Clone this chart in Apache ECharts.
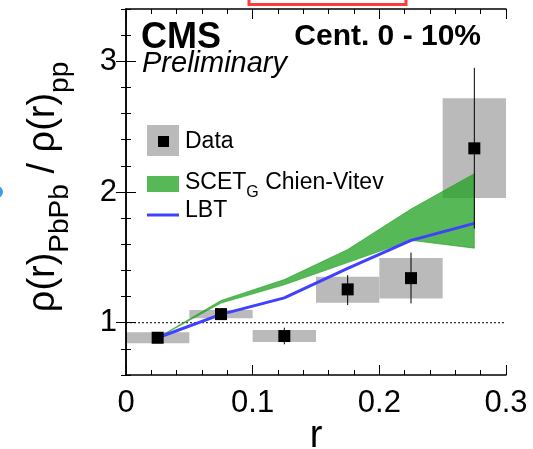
<!DOCTYPE html>
<html><head><meta charset="utf-8">
<script src="https://cdn.jsdelivr.net/npm/echarts@6/dist/echarts.min.js"></script>
<style>html,body{margin:0;padding:0;background:#fff}#c{width:533px;height:449px}</style>
</head><body><div id="c"></div>
<script>
// ---- data ----
const rCenter = [0.025, 0.075, 0.125, 0.175, 0.225, 0.275];
const rLow    = [0, 0.05, 0.1, 0.15, 0.2, 0.25];
const rHigh   = [0.05, 0.1, 0.15, 0.2, 0.25, 0.3];
const dataRatio = [0.885, 1.066, 0.898, 1.255, 1.341, 2.334];
const statLow   = [0.875, 1.056, 0.835, 1.135, 1.148, 1.72];
const statHigh  = [0.895, 1.076, 0.962, 1.364, 1.537, 2.95];
const sysLow    = [0.843, 1.034, 0.853, 1.153, 1.186, 1.954];
const sysHigh   = [0.927, 1.097, 0.944, 1.351, 1.496, 2.718];
const scetLow   = [0.885, 1.15, 1.29, 1.46, 1.63, 1.57];
const scetHigh  = [0.885, 1.17, 1.33, 1.56, 1.87, 2.14];
const lbtValue  = [0.885, 1.064, 1.19, 1.415, 1.63, 1.76];
const xTickLabels = [0, 0.1, 0.2, 0.3];
const yTickLabels = [1, 2, 3];
const refLevel = 1;

const FONT = 'Liberation Sans, Arial, Helvetica, sans-serif';
const GRAY = '#bababa';
const GREEN = 'rgba(30,160,30,0.75)';
const BLUE = '#4040ff';

const chart = echarts.init(document.getElementById('c'), null, {renderer: 'canvas'});

function xAx(pos, interval, len, labels, line) {
  return {
    type: 'value', position: pos, min: 0, max: 0.3, interval: interval, z: 10,
    axisLine: {show: line, lineStyle: {color: '#000', width: 1.5}},
    axisTick: {show: true, inside: true, length: len, lineStyle: {color: '#000', width: 1}},
    axisLabel: {show: labels, fontSize: 31, fontFamily: FONT, color: '#000', margin: 13,
      showMinLabel: true, showMaxLabel: true,
      formatter: v => String(Math.round(v * 10) / 10)},
    splitLine: {show: false}
  };
}
function yAx(pos, major, labels, line) {
  const a = {
    type: 'value', position: pos, min: 0.6, max: 3.4, interval: 0.2, z: 10,
    axisLine: {show: line, lineStyle: {color: '#000', width: 1.5}},
    axisTick: {show: true, inside: true, length: major ? 10 : 5, lineStyle: {color: '#000', width: 1}},
    axisLabel: {show: labels, fontSize: 31, fontFamily: FONT, color: '#000', margin: 9},
    splitLine: {show: false}
  };
  if (major) {
    a.axisTick.customValues = yTickLabels;
    a.axisLabel.customValues = yTickLabels;
    a.axisLabel.formatter = v => String(Math.round(v));
  }
  return a;
}

const option = {
  animation: false,
  grid: {left: 126, right: 27, top: 9, bottom: 74, show: false},
  xAxis: [
    xAx('bottom', 0.02, 5, false, false),
    xAx('bottom', 0.1, 10, true, true),
    xAx('top', 0.02, 5, false, false),
    xAx('top', 0.1, 10, false, true)
  ],
  yAxis: [
    yAx('left', false, false, false),
    yAx('left', true, true, true),
    yAx('right', false, false, false),
    yAx('right', true, false, true)
  ],
  series: [
    { // systematic boxes
      type: 'custom', xAxisIndex: 1, yAxisIndex: 1, silent: true, z: 1,
      data: rCenter.map((r, i) => [rLow[i], rHigh[i], sysLow[i], sysHigh[i]]),
      encode: {x: [0, 1], y: [2, 3]},
      renderItem: (params, api) => {
        const p0 = api.coord([api.value(0), api.value(3)]);
        const p1 = api.coord([api.value(1), api.value(2)]);
        return {type: 'rect', shape: {x: p0[0], y: p0[1], width: p1[0] - p0[0], height: p1[1] - p0[1]},
          style: {fill: GRAY}};
      }
    },
    { // reference dashed line
      type: 'line', xAxisIndex: 1, yAxisIndex: 1, silent: true, z: 2, symbol: 'none',
      data: [[xTickLabels[0], refLevel], [xTickLabels[3], refLevel]],
      lineStyle: {color: '#000', width: 1, type: [2, 2]}
    },
    { // SCET band
      type: 'custom', xAxisIndex: 1, yAxisIndex: 1, silent: true, z: 3,
      data: rCenter.map((r, i) => [r, scetLow[i], scetHigh[i]]),
      encode: {x: 0, y: [1, 2]},
      renderItem: (params, api) => {
        if (params.dataIndex !== rCenter.length - 1) return null;
        const pts = [];
        for (let i = 0; i < rCenter.length; i++) pts.push(api.coord([rCenter[i], scetHigh[i]]));
        for (let i = rCenter.length - 1; i >= 0; i--) pts.push(api.coord([rCenter[i], scetLow[i]]));
        return {type: 'polygon', shape: {points: pts}, style: {fill: GREEN, stroke: GREEN, lineWidth: 0.8}};
      }
    },
    { // LBT
      type: 'line', xAxisIndex: 1, yAxisIndex: 1, silent: true, z: 4, symbol: 'none',
      data: rCenter.map((r, i) => [r, lbtValue[i]]),
      lineStyle: {color: BLUE, width: 3}
    },
    { // stat error bars
      type: 'custom', xAxisIndex: 1, yAxisIndex: 1, silent: true, z: 5,
      data: rCenter.map((r, i) => [r, statLow[i], statHigh[i]]),
      encode: {x: 0, y: [1, 2]},
      renderItem: (params, api) => {
        const a = api.coord([api.value(0), api.value(1)]);
        const b = api.coord([api.value(0), api.value(2)]);
        return {type: 'line', shape: {x1: a[0], y1: a[1], x2: b[0], y2: b[1]},
          style: {stroke: '#000', lineWidth: 1}};
      }
    },
    { // data points
      type: 'scatter', xAxisIndex: 1, yAxisIndex: 1, silent: true, z: 6,
      symbol: 'rect', symbolSize: 12, itemStyle: {color: '#000', opacity: 1},
      data: rCenter.map((r, i) => [r, dataRatio[i]])
    }
  ],
  graphic: [
    {type: 'text', x: 141, y: 38, style: {text: 'CMS', font: 'bold 36px ' + FONT, fill: '#000', verticalAlign: 'middle', align: 'left'}},
    {type: 'text', x: 142, y: 64, style: {text: 'Preliminary', font: 'italic 29px ' + FONT, fill: '#000', verticalAlign: 'middle', align: 'left'}},
    {type: 'text', x: 481, y: 37, style: {text: 'Cent. 0 - 10%', font: 'bold 30px ' + FONT, fill: '#000', verticalAlign: 'middle', align: 'right'}},
    // legend
    {type: 'rect', shape: {x: 147, y: 125, width: 32, height: 31}, style: {fill: GRAY}},
    {type: 'rect', shape: {x: 158, y: 136, width: 11, height: 11}, style: {fill: '#000'}},
    {type: 'text', x: 185, y: 142, style: {text: 'Data', font: '23px ' + FONT, fill: '#000', verticalAlign: 'middle', align: 'left'}},
    {type: 'rect', shape: {x: 147, y: 176, width: 32, height: 16}, style: {fill: GREEN}},
    {type: 'text', x: 185, y: 186, style: {
      text: '{a|SCET}{s|G}{a| Chien-Vitev}', fill: '#000', verticalAlign: 'middle', align: 'left',
      rich: {a: {fontSize: 23, fontFamily: FONT, lineHeight: 30, verticalAlign: 'top'},
             s: {fontSize: 16, fontFamily: FONT, lineHeight: 18, verticalAlign: 'bottom'}}}},
    {type: 'line', shape: {x1: 147, y1: 215, x2: 179, y2: 215}, style: {stroke: BLUE, lineWidth: 3}},
    {type: 'text', x: 185, y: 211, style: {text: 'LBT', font: '23px ' + FONT, fill: '#000', verticalAlign: 'middle', align: 'left'}},
    // axis titles
    {type: 'text', x: 316, y: 437, style: {text: 'r', font: '38px ' + FONT, fill: '#000', verticalAlign: 'middle', align: 'center'}},
    {type: 'text', x: 44, y: 187, rotation: Math.PI / 2, style: {
      text: '{a|ρ(r)}{s|PbPb}{a| / ρ(r)}{s|pp}', fill: '#000', verticalAlign: 'middle', align: 'center',
      rich: {a: {fontSize: 38, fontFamily: FONT, lineHeight: 60, verticalAlign: 'middle'},
             s: {fontSize: 28, fontFamily: FONT, lineHeight: 28, verticalAlign: 'bottom'}}}},
    // cropped artefacts at the edges of the reference
    {type: 'rect', shape: {x: 249, y: -12, width: 157, height: 16.5}, style: {fill: 'none', stroke: '#ff3a3a', lineWidth: 3}},
    {type: 'circle', shape: {cx: -3, cy: 192, r: 6}, style: {fill: '#3d9be9'}}
  ]
};
chart.setOption(option);
</script>
</body></html>
